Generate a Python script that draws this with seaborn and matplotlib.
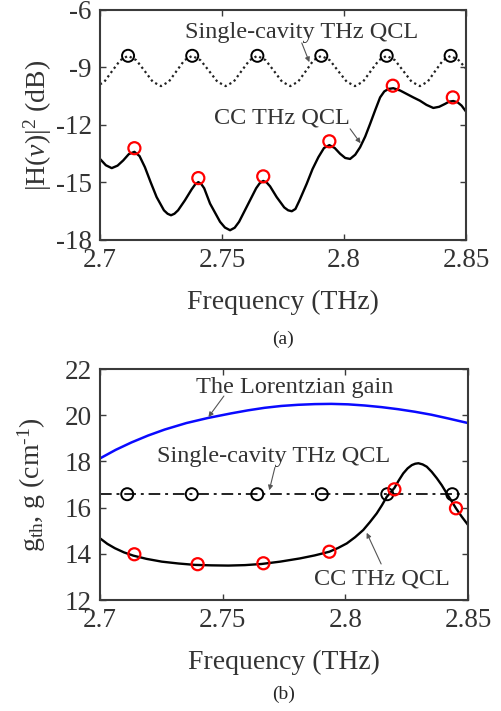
import numpy as np
import matplotlib
matplotlib.use("Agg")
import matplotlib.pyplot as plt
import seaborn as sns

# ---------------- datos (a) ----------------
# |H(v)|^2 cavidad simple (linea punteada)
freq_sc_a = [2.7000, 2.7018, 2.7050, 2.7083, 2.7115,
             2.7149, 2.7183, 2.7216, 2.7250, 2.7282, 2.7314, 2.7346, 2.7378,
             2.7412, 2.7447, 2.7481, 2.7515, 2.7548, 2.7580, 2.7613, 2.7645,
             2.7679, 2.7713, 2.7746, 2.7780, 2.7812, 2.7844, 2.7875, 2.7907,
             2.7942, 2.7976, 2.8011, 2.8045, 2.8078, 2.8110, 2.8143, 2.8175,
             2.8209, 2.8243, 2.8277, 2.8311, 2.8343, 2.8374, 2.8406, 2.8437,
             2.8470, 2.8500]
hdb_sc_a = [-9.88, -9.74, -9.18, -8.62, -8.39,
            -8.62, -9.18, -9.74, -9.97, -9.74, -9.18, -8.62, -8.39,
            -8.62, -9.18, -9.74, -9.97, -9.74, -9.18, -8.62, -8.39,
            -8.62, -9.18, -9.74, -9.97, -9.74, -9.18, -8.62, -8.39,
            -8.62, -9.18, -9.74, -9.97, -9.74, -9.18, -8.62, -8.39,
            -8.62, -9.18, -9.74, -9.97, -9.74, -9.18, -8.62, -8.39,
            -8.62, -9.05]
modos_sc_a = [2.7115, 2.7378, 2.7645, 2.7907, 2.8175, 2.8437]
modos_sc_a_db = [-8.39, -8.39, -8.39, -8.39, -8.39, -8.39]

# |H(v)|^2 cavidades acopladas (CC)
freq_cc_a = [2.7000, 2.7024, 2.7048, 2.7072, 2.7095, 2.7118, 2.7141, 2.7162,
             2.7184, 2.7208, 2.7232, 2.7262, 2.7277, 2.7291, 2.7305, 2.7320,
             2.7348, 2.7376, 2.7390, 2.7403, 2.7415, 2.7427, 2.7451, 2.7492,
             2.7512, 2.7533, 2.7552, 2.7570, 2.7608, 2.7640, 2.7655, 2.7669,
             2.7683, 2.7697, 2.7724, 2.7755, 2.7771, 2.7786, 2.7801, 2.7817,
             2.7847, 2.7871, 2.7895, 2.7918, 2.7940, 2.7962, 2.7984, 2.8005,
             2.8025, 2.8046, 2.8066, 2.8087, 2.8107, 2.8128, 2.8148, 2.8165,
             2.8182, 2.8202, 2.8230, 2.8257, 2.8284, 2.8311, 2.8338, 2.8366,
             2.8390, 2.8414, 2.8431, 2.8448, 2.8466, 2.8482, 2.8500]
hdb_cc_a = [-13.77, -14.10, -14.25, -14.12, -13.85, -13.52, -13.40, -13.62,
            -14.20, -15.00, -15.76, -16.45, -16.63, -16.71, -16.63, -16.45,
            -15.93, -15.35, -15.10, -14.98, -15.08, -15.30, -16.10, -17.05,
            -17.35, -17.49, -17.36, -17.05, -16.10, -15.30, -15.03, -14.92,
            -15.00, -15.20, -15.76, -16.30, -16.45, -16.50, -16.38, -15.95,
            -15.07, -14.30, -13.68, -13.20, -13.05, -13.20, -13.50, -13.72,
            -13.77, -13.55, -13.16, -12.60, -11.94, -11.22, -10.56, -10.25,
            -10.12, -10.08, -10.20, -10.38, -10.56, -10.73, -10.95, -11.11,
            -11.05, -10.90, -10.78, -10.75, -10.82, -10.99, -11.30]
modos_cc_a = [2.7141, 2.7403, 2.7669, 2.7940, 2.8200, 2.8446]
modos_cc_a_db = [-13.21, -14.77, -14.68, -12.85, -9.95, -10.56]

# ---------------- datos (b) ----------------
freq_lor = [2.7000, 2.7064, 2.7128, 2.7196, 2.7264, 2.7352, 2.7440, 2.7535,
            2.7603, 2.7671, 2.7739, 2.7807, 2.7875, 2.7943, 2.8011, 2.8079,
            2.8147, 2.8215, 2.8283, 2.8351, 2.8419, 2.8500]
g_lor = [18.13, 18.50, 18.82, 19.12, 19.38, 19.66, 19.88, 20.08,
         20.21, 20.32, 20.40, 20.45, 20.48, 20.49, 20.47, 20.42,
         20.35, 20.26, 20.15, 20.02, 19.86, 19.66]

freq_sc_b = [2.7000, 2.8500]
gth_sc_b = [16.58, 16.58]
modos_sc_b = [2.7111, 2.7374, 2.7641, 2.7904, 2.8171, 2.8436]
modos_sc_b_g = [16.58, 16.58, 16.58, 16.58, 16.58, 16.58]

freq_cc_b = [2.7000, 2.7030, 2.7061, 2.7098, 2.7136, 2.7190, 2.7252, 2.7320,
             2.7387, 2.7455, 2.7523, 2.7591, 2.7659, 2.7734, 2.7815, 2.7875,
             2.7935, 2.7970, 2.8006, 2.8040, 2.8073, 2.8100, 2.8128, 2.8149,
             2.8169, 2.8200, 2.8218, 2.8236, 2.8254, 2.8271, 2.8285, 2.8298,
             2.8315, 2.8332, 2.8352, 2.8373, 2.8393, 2.8413, 2.8432, 2.8451,
             2.8475, 2.8500]
gth_cc_b = [14.67, 14.43, 14.24, 14.06, 13.92, 13.78, 13.66, 13.58,
            13.52, 13.50, 13.49, 13.51, 13.56, 13.66, 13.80, 13.93,
            14.09, 14.25, 14.45, 14.72, 15.03, 15.37, 15.75, 16.10,
            16.47, 16.85, 17.18, 17.48, 17.70, 17.84, 17.90, 17.92,
            17.87, 17.77, 17.55, 17.27, 16.97, 16.62, 16.30, 15.97,
            15.60, 15.25]
modos_cc_b = [2.7140, 2.7398, 2.7666, 2.7935, 2.8200, 2.8451]
modos_cc_b_g = [13.98, 13.55, 13.59, 14.09, 16.79, 15.97]

xticks = [2.7, 2.75, 2.8, 2.85]
xtick_labels = ["2.7", "2.75", "2.8", "2.85"]
yticks_a = [-18, -15, -12, -9, -6]
yticks_b = [12, 14, 16, 18, 20, 22]

# ---------------- estilo ----------------
sns.set_style("ticks")
plt.rcParams['font.family'] = ['Liberation Serif', 'DejaVu Serif']
plt.rcParams['mathtext.fontset'] = 'custom'
plt.rcParams['mathtext.rm'] = 'Liberation Serif'
plt.rcParams['mathtext.it'] = 'Liberation Serif:italic'
plt.rcParams['axes.unicode_minus'] = False

gris = '#3a3a3a'
fig = plt.figure(figsize=(5.02, 7.11), dpi=100)
ax1 = fig.add_axes([100 / 502, 1 - 240 / 711, 366 / 502, 230 / 711])
ax2 = fig.add_axes([100 / 502, 1 - 600 / 711, 368 / 502, 231 / 711])


def circulos(ax, x, y, color, lw):
    sns.scatterplot(x=x, y=y, ax=ax, marker='o', s=75, color=color,
                    facecolor='none', edgecolor=color, linewidth=lw,
                    zorder=5, legend=False)


def flecha(ax, cola, punta):
    ax.annotate('', xy=punta, xytext=cola,
                arrowprops=dict(arrowstyle='-|>', color='#555555', lw=0.8,
                                mutation_scale=7, shrinkA=0, shrinkB=0))


# ----- (a) -----
sns.lineplot(x=freq_sc_a, y=hdb_sc_a, ax=ax1, color='#222222', lw=1.6,
             linestyle=(0, (1, 1.4)), estimator=None, sort=False)
sns.lineplot(x=freq_cc_a, y=hdb_cc_a, ax=ax1, color='black', lw=1.7,
             estimator=None, sort=False)
circulos(ax1, modos_sc_a, modos_sc_a_db, 'black', 1.4)
circulos(ax1, modos_cc_a, modos_cc_a_db, 'red', 1.6)

ax1.text(2.7827, -7.18, 'Single-cavity THz QCL', ha='center', va='center',
         fontsize=17.5, color='#333333')
flecha(ax1, (2.7827, -7.72), (2.7858, -8.72))
ax1.text(2.7745, -11.62, 'CC THz QCL', ha='center', va='center',
         fontsize=17.5, color='#333333')
flecha(ax1, (2.8025, -12.20), (2.8068, -12.95))

ax1.set_xlim(2.7, 2.85)
ax1.set_ylim(-18, -6)
ax1.set_yticks(yticks_a)
ax1.set_yticklabels([str(v) for v in yticks_a])
ax1.set_ylabel(r'$|\mathrm{H}(\nu)|^2$ (dB)', fontsize=20, color='#333333')
ax1.yaxis.set_label_coords(-0.127, 0.5)
ax1.text(0.5, -0.43, '(a)', transform=ax1.transAxes, ha='center',
         va='center', fontsize=14)

# ----- (b) -----
sns.lineplot(x=freq_lor, y=g_lor, ax=ax2, color='#0a0aff', lw=1.8,
             estimator=None, sort=False)
sns.lineplot(x=freq_sc_b, y=gth_sc_b, ax=ax2, color='#222222', lw=1.4,
             linestyle=(0, (6, 2.5, 1.5, 2.5)), estimator=None, sort=False)
sns.lineplot(x=freq_cc_b, y=gth_cc_b, ax=ax2, color='black', lw=1.7,
             estimator=None, sort=False)
circulos(ax2, modos_sc_b, modos_sc_b_g, 'black', 1.4)
circulos(ax2, modos_cc_b, modos_cc_b_g, 'red', 1.6)

ax2.text(2.7795, 21.18, 'The Lorentzian gain', ha='center', va='center',
         fontsize=17.5, color='#333333')
flecha(ax2, (2.7505, 20.83), (2.7442, 19.92))
ax2.text(2.7707, 18.23, 'Single-cavity THz QCL', ha='center', va='center',
         fontsize=17.5, color='#333333')
flecha(ax2, (2.7713, 17.74), (2.7690, 16.75))
ax2.text(2.8148, 12.90, 'CC THz QCL', ha='center', va='center',
         fontsize=17.5, color='#333333')
flecha(ax2, (2.8146, 13.56), (2.8087, 14.91))

ax2.set_xlim(2.7, 2.85)
ax2.set_ylim(12, 22)
ax2.set_yticks(yticks_b)
ax2.set_ylabel('g$_{\\mathrm{th}}$, g (cm$^{\\mathrm{\u2010}1}$)', fontsize=20,
               color='#333333')
ax2.yaxis.set_label_coords(-0.14, 0.5)
ax2.text(0.5, -0.41, '(b)', transform=ax2.transAxes, ha='center',
         va='center', fontsize=14)

for ax in (ax1, ax2):
    ax.set_xticks(xticks)
    ax.set_xticklabels(xtick_labels)
    ax.set_xlabel('Frequency (THz)', fontsize=20, color='#333333', labelpad=12)
    ax.tick_params(direction='in', top=True, right=True, length=4, width=1,
                   color=gris, labelsize=19.5, labelcolor='#333333', pad=6)
    for s in ax.spines.values():
        s.set_visible(True)
        s.set_color(gris)
        s.set_linewidth(1.5)

fig.savefig('out.png', dpi=100)
